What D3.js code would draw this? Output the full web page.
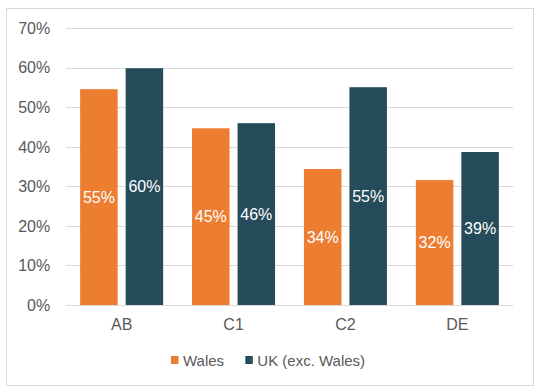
<!DOCTYPE html>
<html><head><meta charset="utf-8">
<script src="https://cdn.jsdelivr.net/npm/d3@7"></script>
<style>body{margin:0;background:#fff;}svg{display:block;font-family:"Liberation Sans",Arial,sans-serif;}</style>
</head><body>
<svg id="c" width="541" height="391"></svg>
<script>
const categories = ["AB", "C1", "C2", "DE"];
const seriesNames = ["Wales", "UK (exc. Wales)"];
const wales = [54.6, 44.7, 34.4, 31.6];
const uk = [59.9, 46.0, 55.1, 38.7];
const yTicks = [0, 10, 20, 30, 40, 50, 60, 70];
const colors = ["#ED7D31", "#264B5A"];

(function () {
const svg = d3.select("#c");
svg.append("rect").attr("x", 6.5).attr("y", 8.5).attr("width", 527).attr("height", 377)
  .attr("fill", "#fff").attr("stroke", "#D9D9D9").attr("stroke-width", 1);

const pLeft = 65.7, pRight = 513.3, pTop = 28.3, pBottom = 305;
const x = d3.scaleBand().domain(categories).range([pLeft, pRight]).paddingInner(0).paddingOuter(0);
const y = d3.scaleLinear().domain([0, 70]).range([pBottom, pTop]);

const g = svg.append("g");
g.selectAll("line.grid").data(yTicks).join("line")
  .attr("x1", pLeft).attr("x2", pRight)
  .attr("y1", d => Math.round(y(d)) + 0.5).attr("y2", d => Math.round(y(d)) + 0.5)
  .attr("stroke", "#D9D9D9").attr("stroke-width", 1);

const yAxis = d3.axisLeft(y).tickValues(yTicks).tickFormat(d => d + "%").tickSize(0).tickPadding(15.5);
const ya = svg.append("g").attr("transform", `translate(${pLeft},0)`).call(yAxis);
ya.select(".domain").remove();
ya.selectAll("text").attr("fill", "#595959").attr("font-size", "16px").attr("font-family", "Liberation Sans, Arial, sans-serif");

const xAxis = d3.axisBottom(x).tickSize(0).tickPadding(14);
const xa = svg.append("g").attr("transform", `translate(0,${pBottom})`).call(xAxis);
xa.select(".domain").remove();
xa.selectAll("text").attr("fill", "#595959").attr("font-size", "16px").attr("font-family", "Liberation Sans, Arial, sans-serif");

const barW = 37.5, gap = 8;
const series = [wales, uk];
series.forEach((vals, si) => {
  const data = categories.map((c, i) => ({c, v: vals[i]}));
  const off = x.bandwidth() / 2 - (barW * 2 + gap) / 2 + si * (barW + gap);
  g.selectAll(null).data(data).join("rect")
    .attr("x", d => x(d.c) + off).attr("width", barW)
    .attr("y", d => y(d.v)).attr("height", d => y(0) - y(d.v))
    .attr("fill", colors[si]);
  g.selectAll(null).data(data).join("text")
    .attr("x", d => x(d.c) + off + barW / 2)
    .attr("y", d => (y(d.v) + y(0)) / 2)
    .attr("dy", "0.35em").attr("text-anchor", "middle")
    .attr("fill", "#fff").attr("font-size", "16px")
    .text(d => Math.round(d.v) + "%");
});

const leg = svg.append("g");
const legItems = [{n: seriesNames[0], x: 171}, {n: seriesNames[1], x: 245.3}];
legItems.forEach((it, i) => {
  leg.append("rect").attr("x", it.x).attr("y", 356).attr("width", 7.5).attr("height", 8).attr("fill", colors[i]);
  leg.append("text").attr("x", it.x + 12).attr("y", 360.5).attr("dy", "0.35em")
    .attr("fill", "#595959").attr("font-size", "15px").text(it.n);
});
})();
</script>
</body></html>
